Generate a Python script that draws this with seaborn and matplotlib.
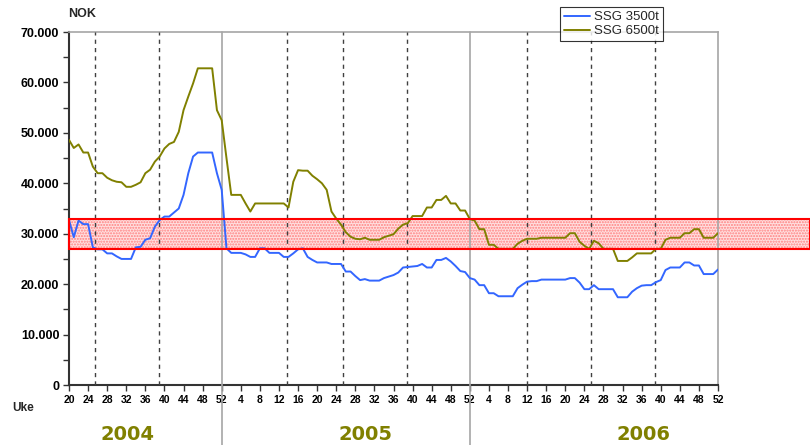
import numpy as np
import pandas as pd
import seaborn as sns
import matplotlib
matplotlib.use("Agg")
import matplotlib.pyplot as plt
from matplotlib.patches import Rectangle
from matplotlib.ticker import MultipleLocator, FuncFormatter

# ---------------- data (1000 NOK) ----------------
years = [2004, 2005, 2006]
weeks = {2004: list(range(20, 53)), 2005: list(range(1, 53)), 2006: list(range(1, 53))}

ssg3500_2004 = [32.7, 29.3, 32.6, 31.9, 31.9, 27.3, 26.9, 26.9, 26.1, 26.1, 25.5, 25.0, 25.0,
                25.0, 27.3, 27.4, 28.8, 29.1, 31.4, 32.7, 33.4, 33.4, 34.2, 35.0, 37.7, 42.0,
                45.3, 46.1, 46.1, 46.1, 46.1, 42.0, 38.7]
ssg3500_2005 = [27.1, 26.2, 26.2, 26.2, 25.9, 25.4, 25.4, 27.1, 27.1, 26.2, 26.2, 26.2, 25.4,
                25.4, 26.1, 26.9, 27.1, 25.4, 24.8, 24.3, 24.3, 24.3, 24.0, 24.0, 24.0, 22.5,
                22.5, 21.6, 20.8, 21.0, 20.7, 20.7, 20.7, 21.2, 21.5, 21.8, 22.3, 23.3, 23.4,
                23.5, 23.6, 24.0, 23.3, 23.3, 24.8, 24.8, 25.2, 24.5, 23.6, 22.6, 22.4, 21.2]
ssg3500_2006 = [20.9, 19.8, 19.8, 18.2, 18.2, 17.6, 17.6, 17.6, 17.6, 19.2, 19.9, 20.5, 20.6,
                20.6, 20.9, 20.9, 20.9, 20.9, 20.9, 20.9, 21.2, 21.2, 20.3, 19.0, 19.0, 19.8,
                19.0, 19.0, 19.0, 19.0, 17.4, 17.4, 17.4, 18.5, 19.2, 19.7, 19.8, 19.8, 20.4,
                20.8, 22.8, 23.3, 23.3, 23.3, 24.3, 24.3, 23.7, 23.7, 22.0, 22.0, 22.0, 22.9]

ssg6500_2004 = [48.6, 47.0, 47.7, 46.1, 46.1, 43.3, 42.0, 42.0, 41.1, 40.6, 40.3, 40.2, 39.3,
                39.3, 39.7, 40.2, 42.0, 42.7, 44.3, 45.3, 46.9, 47.8, 48.2, 50.2, 54.5, 57.2,
                59.8, 62.8, 62.8, 62.8, 62.8, 54.5, 52.5]
ssg6500_2005 = [45.0, 37.7, 37.7, 37.7, 36.0, 34.4, 36.0, 36.0, 36.0, 36.0, 36.0, 36.0, 36.0,
                35.2, 40.3, 42.6, 42.5, 42.5, 41.5, 40.8, 40.0, 38.7, 34.4, 33.0, 31.8, 30.3,
                29.4, 29.0, 28.9, 29.2, 28.8, 28.8, 28.8, 29.3, 29.6, 29.9, 31.0, 31.8, 32.1,
                33.5, 33.5, 33.5, 35.2, 35.2, 36.7, 36.7, 37.5, 36.0, 36.0, 34.6, 34.6, 32.9]
ssg6500_2006 = [32.6, 30.9, 30.9, 27.8, 27.8, 27.0, 27.0, 27.0, 27.0, 28.0, 28.6, 29.0, 29.0,
                29.0, 29.2, 29.2, 29.2, 29.2, 29.2, 29.2, 30.1, 30.1, 28.4, 27.6, 27.0, 28.6,
                28.1, 27.0, 27.0, 27.0, 24.6, 24.6, 24.6, 25.3, 26.1, 26.1, 26.1, 26.1, 27.0,
                27.0, 28.8, 29.2, 29.2, 29.2, 30.1, 30.1, 30.9, 30.9, 29.2, 29.2, 29.2, 30.1]

series = {
    "SSG 3500t": {2004: ssg3500_2004, 2005: ssg3500_2005, 2006: ssg3500_2006},
    "SSG 6500t": {2004: ssg6500_2004, 2005: ssg6500_2005, 2006: ssg6500_2006},
}
colors = {"SSG 3500t": "#3366ff", "SSG 6500t": "#808000"}

band_low, band_high = 27000, 33000
# kvartalslinjer (ukenummer slik de er tegnet)
quarter_marks = {2004: [25.5, 38.8], 2005: [13.7, 25.4, 38.8], 2006: [12.0, 25.4, 38.8]}

# ---------------- løpende ukeakse ----------------
# 2004 -> -20, 2005 -> 32, 2006 -> 84
offset = {}
pos = 0
for y in years:
    offset[y] = pos - weeks[y][0] + (0 if y == years[0] else 1)
    pos = offset[y] + weeks[y][-1]

rows = []
for name, data in series.items():
    for y in years:
        for w, v in zip(weeks[y], data[y]):
            rows.append([name, y, w, offset[y] + w, v * 1000])
df = pd.DataFrame(rows, columns=["serie", "year", "week", "idx", "NOK"])

# ---------------- plot ----------------
sns.set_style("white")
plt.rcParams["font.family"] = ["Liberation Sans", "DejaVu Sans"]

fig = plt.figure(figsize=(8.1, 4.45), dpi=100)
ax = fig.add_axes([69 / 810, 60 / 445, 649 / 810, 353 / 445])

sns.lineplot(data=df, x="idx", y="NOK", hue="serie", palette=colors,
             linewidth=1.4, ax=ax, zorder=4)

xmax = df["idx"].max()
ax.set_xlim(0, xmax)
ax.set_ylim(0, 70000)

# rødt bånd (går helt ut til høyre kant)
band_w = (810 - 69) / 649
ax.add_patch(Rectangle((0, band_low), band_w, band_high - band_low,
                       transform=ax.get_yaxis_transform(), facecolor="#ffe0e0",
                       edgecolor="#ff8080", hatch="......", linewidth=0,
                       clip_on=False, zorder=2))
ax.add_patch(Rectangle((0, band_low), band_w, band_high - band_low,
                       transform=ax.get_yaxis_transform(), facecolor="none",
                       edgecolor="#ff0000", linewidth=1.5, clip_on=False, zorder=5))

for y in years:
    for q in quarter_marks[y]:
        ax.axvline(offset[y] + q, color="#404040", linestyle=(0, (3, 3)),
                   linewidth=1.0, zorder=3)

# årsskille, fortsetter ned under aksen
for y in years[1:]:
    ax.axvline(offset[y], ymin=-60 / 353, ymax=1, color="#a6a6a6",
               linewidth=1.2, clip_on=False, zorder=3)

for s in ["top", "right"]:
    ax.spines[s].set_color("#a6a6a6")
    ax.spines[s].set_linewidth(1.2)
for s in ["left", "bottom"]:
    ax.spines[s].set_color("#333333")
    ax.spines[s].set_linewidth(1.5)

ax.yaxis.set_major_locator(MultipleLocator(10000))
ax.yaxis.set_minor_locator(MultipleLocator(5000))
ax.yaxis.set_major_formatter(FuncFormatter(lambda v, p: f"{int(v):,}".replace(",", ".")))

tick_pos = list(range(0, int(xmax) + 1, 4))
tick_lab = []
for t in tick_pos:
    for y in years:
        if t <= offset[y] + weeks[y][-1]:
            tick_lab.append(str(t - offset[y]))
            break
ax.set_xticks(tick_pos)
ax.set_xticklabels(tick_lab, fontsize=7.5, fontweight="bold")
for lab in ax.get_yticklabels():
    lab.set_fontsize(9)
    lab.set_fontweight("bold")
ax.tick_params(axis="both", which="both", direction="out", length=4, width=1,
               color="#333333", pad=3, left=True, bottom=True, labelcolor="black")

ax.set_xlabel("")
ax.set_ylabel("")

fig.text(68 / 810, 1 - 14 / 445, "NOK", fontsize=9, fontweight="bold", va="center")
fig.text(12 / 810, 1 - 408 / 445, "Uke", fontsize=8.5, fontweight="bold", va="center")
year_x = {2004: 127, 2005: 366, 2006: 644}
for y in years:
    fig.text(year_x[y] / 810, 1 - 434 / 445, str(y), fontsize=14, fontweight="bold",
             color="#808000", ha="center", va="center", family="DejaVu Sans")

leg = ax.legend(loc="upper left", bbox_to_anchor=(560 / 810, 1 - 7 / 445),
                bbox_transform=fig.transFigure, fontsize=9.5, frameon=True,
                fancybox=False, edgecolor="black", handlelength=2.0, borderaxespad=0,
                borderpad=0.3, labelspacing=0.15, handletextpad=0.3, title=None)
leg.get_frame().set_linewidth(0.8)
leg.set_zorder(10)

fig.savefig("out.png", dpi=100)
